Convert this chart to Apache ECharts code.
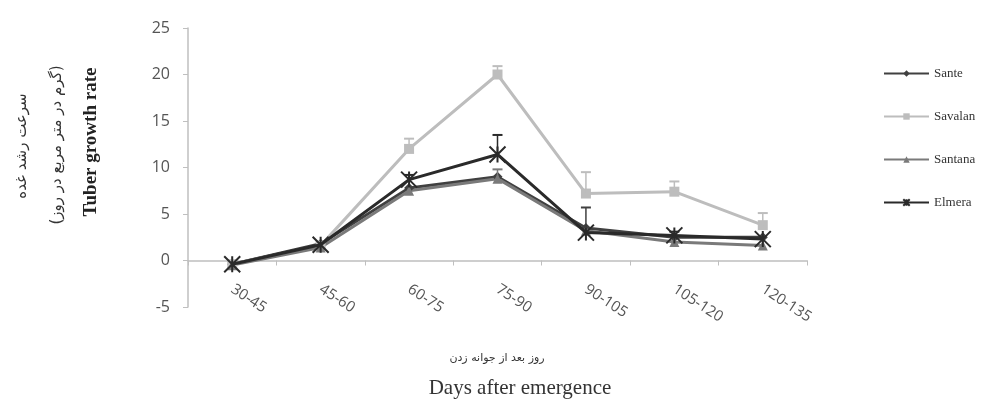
<!DOCTYPE html>
<html><head><meta charset="utf-8">
<script src="https://cdn.jsdelivr.net/npm/echarts@6/dist/echarts.min.js"></script>
<style>html,body{margin:0;padding:0;background:#fff}#c{width:983px;height:401px}</style>
</head><body><div id="c"></div>
<script>
const categories = ['30-45','45-60','60-75','75-90','90-105','105-120','120-135'];
const seriesNames = ['Sante','Savalan','Santana','Elmera'];
const sante   = [-0.4, 1.8, 7.8, 9.0, 3.5, 2.5, 2.5];
const savalan = [-0.4, 1.6, 12.0, 20.0, 7.2, 7.4, 3.8];
const santana = [-0.5, 1.4, 7.5, 8.8, 3.2, 2.0, 1.6];
const elmera  = [-0.4, 1.7, 8.7, 11.4, 3.0, 2.7, 2.3];
const santeErr   = [0, 0, 0, 0, 2.2, 0, 0];
const savalanErr = [0, 0, 1.1, 0.9, 2.3, 1.1, 1.3];
const santanaErr = [0, 0, 0, 1.0, 0, 0, 0];
const elmeraErr  = [0, 0, 0.5, 2.1, 0, 0.4, 0];
const yTicks = [-5, 0, 5, 10, 15, 20, 25];

const colors = ['#404040', '#bdbdbd', '#7a7a7a', '#2a2a2a'];
const symbols = ['diamond', 'rect', 'triangle',
  'path://M0,0 L10,10 M10,0 L0,10 M5,0 L5,10'];
const values = [sante, savalan, santana, elmera];
const errs = [santeErr, savalanErr, santanaErr, elmeraErr];

const chart = echarts.init(document.getElementById('c'), null, {renderer: 'canvas'});
const series = [];
values.forEach((v, i) => {
  series.push({
    name: seriesNames[i], type: 'line', data: v,
    lineStyle: {color: colors[i], width: 3},
    itemStyle: {color: colors[i], borderColor: colors[i], borderWidth: i === 3 ? 2 : 0},
    symbol: symbols[i], symbolSize: i === 3 ? 16 : 10,
    z: i === 3 ? 4 : 3
  });
});
values.forEach((v, i) => {
  const d = v.map((y, k) => [k, y, y + errs[i][k]]).filter((r, k) => errs[i][k] > 0);
  series.push({
    type: 'custom', data: d, z: 5,
    renderItem: function (params, api) {
      const p0 = api.coord([api.value(0), api.value(1)]);
      const p1 = api.coord([api.value(0), api.value(2)]);
      const w = 5;
      return {type: 'group', children: [
        {type: 'line', shape: {x1: p0[0], y1: p0[1], x2: p1[0], y2: p1[1]}, style: {stroke: colors[i], lineWidth: 1.5}},
        {type: 'line', shape: {x1: p1[0]-w, y1: p1[1], x2: p1[0]+w, y2: p1[1]}, style: {stroke: colors[i], lineWidth: 2}}
      ]};
    }
  });
});

chart.setOption({
  animation: false,
  color: colors,
  grid: {left: 188, right: 176, top: 28, bottom: 94},
  legend: {
    orient: 'vertical', left: 878, top: 62, itemGap: 30,
    itemWidth: 45, itemHeight: 8,
    data: seriesNames,
    textStyle: {fontFamily: 'Liberation Serif', fontSize: 13, color: '#333'}
  },
  xAxis: {
    type: 'category', data: categories, boundaryGap: true,
    axisLine: {onZero: true, lineStyle: {color: '#bfbfbf', width: 1.5}},
    axisTick: {show: true, length: 5, lineStyle: {color: '#bfbfbf'}},
    axisLabel: {rotate: -33, margin: -19, fontFamily: 'Open Sans', fontSize: 15, color: '#555'}
  },
  yAxis: {
    type: 'value', min: -5, max: 25, interval: 5,
    splitLine: {show: false},
    axisLine: {show: true, lineStyle: {color: '#bfbfbf', width: 1.5}},
    axisTick: {show: true, length: 5, lineStyle: {color: '#bfbfbf'}},
    axisLabel: {margin: 18, fontFamily: 'Open Sans', fontSize: 16, color: '#555',
      formatter: v => yTicks.includes(v) ? String(v) : ''}
  },
  graphic: [
    {type: 'text', x: 22, y: 146, rotation: Math.PI/2,
     style: {text: 'سرعت رشد غده', font: '15px "DejaVu Sans"', fill: '#333', align: 'center', verticalAlign: 'middle'}},
    {type: 'text', x: 57, y: 145, rotation: Math.PI/2,
     style: {text: '(گرم در متر مربع در روز)', font: '15px "DejaVu Sans"', fill: '#333', align: 'center', verticalAlign: 'middle'}},
    {type: 'text', x: 91, y: 142, rotation: Math.PI/2,
     style: {text: 'Tuber growth rate', font: 'bold 19px "Liberation Serif"', fill: '#222', align: 'center', verticalAlign: 'middle'}},
    {type: 'text', x: 497, y: 358,
     style: {text: 'روز بعد از جوانه زدن', font: '11px "DejaVu Sans"', fill: '#333', align: 'center', verticalAlign: 'middle'}},
    {type: 'text', x: 520, y: 388,
     style: {text: 'Days after emergence', font: '21px "Liberation Serif"', fill: '#333', align: 'center', verticalAlign: 'middle'}}
  ],
  series: series
});
</script></body></html>
